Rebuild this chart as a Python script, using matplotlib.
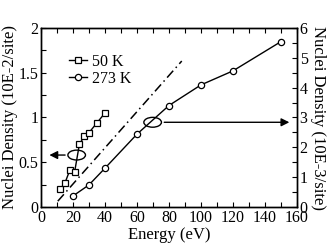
import matplotlib
matplotlib.use("Agg")
import matplotlib.pyplot as plt
from matplotlib.patches import Ellipse
from matplotlib.ticker import MultipleLocator

plt.rcParams['font.family'] = ['Liberation Serif', 'DejaVu Serif']
plt.rcParams['font.size'] = 11.5

# data
e_50 = [12, 15, 18, 21, 24, 27, 30, 35, 40]
n_50 = [0.20, 0.27, 0.41, 0.39, 0.70, 0.79, 0.83, 0.94, 1.05]   # 10E-2/site (left)
e_273 = [20, 30, 40, 60, 80, 100, 120, 150]
n_273 = [0.37, 0.74, 1.30, 2.44, 3.40, 4.09, 4.56, 5.54]          # 10E-3/site (right)
guide_x = [10.5, 88]
guide_y = [0.065, 1.63]

fig = plt.figure(figsize=(3.27, 2.47), dpi=100)
ax = fig.add_axes([0.1254, 0.162, 0.7826, 0.725])
ax2 = ax.twinx()

ax.plot(e_50, n_50, color='black', lw=1, marker='s', ms=4.5, mfc='white', mew=0.9, label='50 K')
ax2.plot(e_273, n_273, color='black', lw=1, marker='o', ms=4.5, mfc='white', mew=0.9)
# proxy so both series show in one legend
ax.plot([], [], color='black', lw=1, marker='o', ms=4.5, mfc='white', mew=0.9, label='273 K')
ax.plot(guide_x, guide_y, color='black', lw=1.1, ls=(0, (6, 2.5, 1, 2.5)))

ax.set_xlim(0, 160)
ax.set_ylim(0, 2)
ax2.set_ylim(0, 6)

ax.xaxis.set_major_locator(MultipleLocator(20))
ax.xaxis.set_minor_locator(MultipleLocator(10))
ax.yaxis.set_major_locator(MultipleLocator(0.5))
ax.yaxis.set_minor_locator(MultipleLocator(0.25))
ax2.yaxis.set_major_locator(MultipleLocator(1))
ax2.yaxis.set_minor_locator(MultipleLocator(0.5))
ax.yaxis.set_major_formatter(plt.FuncFormatter(lambda v, p: '%g' % v))

ax.tick_params(which='both', direction='in', top=True, right=False, length=3.5, width=0.8, pad=2)
ax2.tick_params(which='both', direction='in', length=3.5, width=0.8, pad=2)
for a in (ax, ax2):
    for s in a.spines.values():
        s.set_linewidth(1)

ax.set_xlabel('Energy (eV)', labelpad=1, fontsize=12)
ax.set_ylabel('Nuclei Density (10E-2/site)', labelpad=0, fontsize=12)
# right label placed by hand so it stays inside the small canvas
fig.text(0.972, 0.524, 'Nuclei Density (10E-3/site)', rotation=270, fontsize=12,
         ha='center', va='center')

# ellipses and arrows pointing at the axes
ax.add_patch(Ellipse((22.3, 0.58), 11, 0.11, fill=False, lw=1, color='black'))
ax.add_patch(Ellipse((69.8, 0.946), 11, 0.11, fill=False, lw=1, color='black'))
ax.annotate('', xy=(3.5, 0.58), xytext=(16.8, 0.58),
            arrowprops=dict(arrowstyle='-|>', color='black', lw=1, mutation_scale=12))
ax.annotate('', xy=(157, 0.946), xytext=(75.3, 0.946),
            arrowprops=dict(arrowstyle='-|>', color='black', lw=1, mutation_scale=12))

ax.legend(loc='upper left', bbox_to_anchor=(0.08, 0.90), frameon=False, handlelength=1.1,
          handletextpad=0.3, labelspacing=0.05, borderpad=0, fontsize=11.5)

fig.savefig('out.png', dpi=100)
